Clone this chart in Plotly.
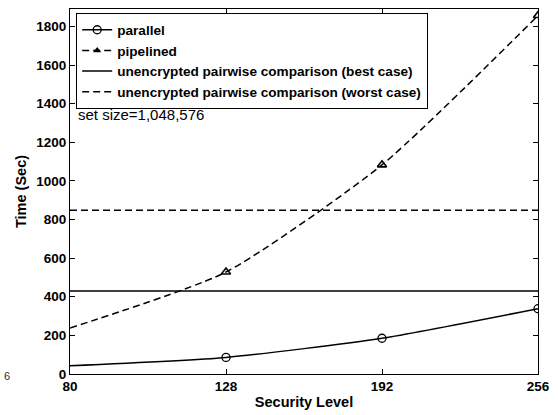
import plotly.graph_objects as go

# ---- data ----
security_levels = ["80", "128", "192", "256"]
parallel_time = [43, 86, 185, 338]
pipelined_time = [238, 528, 1083, 1856]
best_case_time = 430
worst_case_time = 848
marker_levels = ["128", "192", "256"]
parallel_marker_time = parallel_time[1:]
pipelined_marker_time = pipelined_time[1:]

FONT = "Liberation Sans, Arial, Helvetica, sans-serif"
LW = 1.5
DASH = "7px,4px"

fig = go.Figure()

# parallel
fig.add_trace(go.Scatter(x=security_levels, y=parallel_time, mode="lines",
                         line=dict(color="black", width=LW, shape="spline", smoothing=0.6),
                         showlegend=False, hoverinfo="skip"))
fig.add_trace(go.Scatter(x=marker_levels, y=parallel_marker_time, mode="markers",
                         marker=dict(symbol="circle-open", size=8, color="black", line=dict(width=1.3)),
                         showlegend=False))
fig.add_trace(go.Scatter(x=[None], y=[None], mode="lines+markers", name="parallel",
                         line=dict(color="black", width=LW),
                         marker=dict(symbol="circle-open", size=8, color="black", line=dict(width=1.3))))

# pipelined
fig.add_trace(go.Scatter(x=security_levels, y=pipelined_time, mode="lines",
                         line=dict(color="black", width=LW, dash=DASH, shape="spline", smoothing=0.6),
                         showlegend=False, hoverinfo="skip"))
fig.add_trace(go.Scatter(x=marker_levels, y=pipelined_marker_time, mode="markers",
                         marker=dict(symbol="triangle-up-open", size=8, color="black", line=dict(width=1.6)),
                         showlegend=False))
fig.add_trace(go.Scatter(x=[None], y=[None], mode="lines+markers", name="pipelined",
                         line=dict(color="black", width=LW, dash=DASH),
                         marker=dict(symbol="triangle-up", size=7, color="black")))

# unencrypted reference lines
fig.add_trace(go.Scatter(x=[security_levels[0], security_levels[-1]],
                         y=[best_case_time, best_case_time], mode="lines",
                         name="unencrypted pairwise comparison (best case)",
                         line=dict(color="black", width=LW)))
fig.add_trace(go.Scatter(x=[security_levels[0], security_levels[-1]],
                         y=[worst_case_time, worst_case_time], mode="lines",
                         name="unencrypted pairwise comparison (worst case)",
                         line=dict(color="black", width=LW, dash=DASH)))

axis_common = dict(showline=True, linecolor="black", linewidth=1.2, mirror="ticks",
                   ticks="inside", ticklen=5, tickcolor="black", tickwidth=1,
                   showgrid=False, zeroline=False,
                   tickfont=dict(family=FONT, size=13.5, color="black", weight="bold"))

fig.update_layout(
    width=558, height=415,
    margin=dict(l=70, r=18, t=8, b=39),
    paper_bgcolor="white", plot_bgcolor="white",
    font=dict(family=FONT, color="black"),
    xaxis=dict(type="category", range=[0, 3], **axis_common,
               title=dict(text="Security Level", standoff=3,
                          font=dict(family=FONT, size=14.5, color="black", weight="bold"))),
    yaxis=dict(range=[0, 1890], dtick=200, **axis_common,
               title=dict(text="Time (Sec)", standoff=6,
                          font=dict(family=FONT, size=14.5, color="black", weight="bold"))),
    legend=dict(x=0.0128, y=0.9885, xanchor="left", yanchor="top",
                bgcolor="white", bordercolor="black", borderwidth=1.2,
                font=dict(family=FONT, size=13.6, color="black", weight="bold"),
                tracegroupgap=0, itemwidth=30),
    annotations=[
        dict(text="set size=1,048,576", xref="paper", yref="paper", x=0.0128, y=0.711,
             xanchor="left", yanchor="middle", showarrow=False,
             font=dict(family=FONT, size=15, color="black")),
        dict(text="6", xref="paper", yref="paper", x=-0.146, y=-0.005,
             xanchor="left", yanchor="middle", showarrow=False,
             font=dict(family=FONT, size=11, color="#333")),
    ],
)

fig.write_html("out.html")
